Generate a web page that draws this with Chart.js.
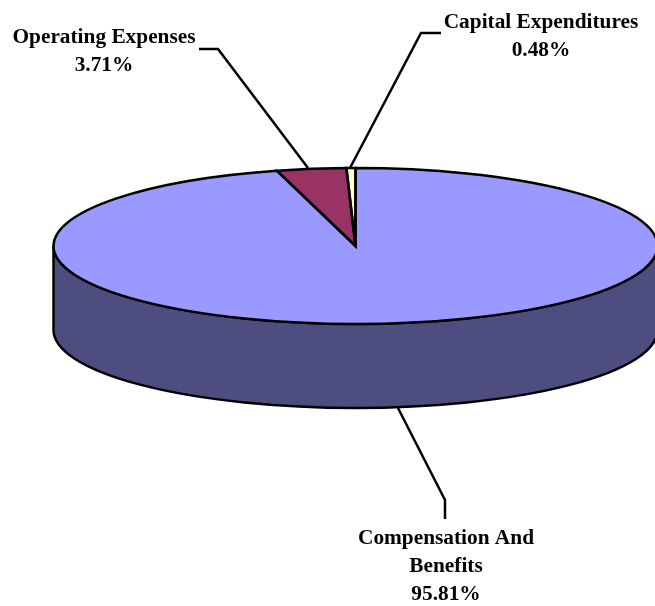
<!DOCTYPE html>
<html>
<head>
<meta charset="utf-8">
<title>Expense breakdown</title>
<script src="https://cdn.jsdelivr.net/npm/chart.js@4"></script>
<style>
    html, body { margin: 0; padding: 0; background: #fff; overflow: hidden; }
    canvas { display: block; }
</style>
</head>
<body>
<canvas id="chart" width="655" height="606"></canvas>
<script>
    // data, clockwise from 12 o'clock
    const categories = ['Compensation And Benefits', 'Operating Expenses', 'Capital Expenditures'];
    const percentages = [95.81, 3.71, 0.48];
    const sliceColors = ['#9999FF', '#993366', '#FFFFCC'];

    /* ── Disc shape: circle squashed into an ellipse, plus a side wall ───── */
    const RADIUS = 302;
    const SQUASH = 78 / RADIUS;
    const DEPTH = 84;
    const WALL_COLOR = '#4D4D80';
    const LINE_WIDTH = 2.5;

    /* ── Label placement (same order as categories) ──────────────────────── */
    const labelLines = [['Compensation And', 'Benefits'], ['Operating Expenses'], ['Capital Expenditures']];
    const labelCenterX = [446, 104, 541];
    const labelFirstBaseline = [544, 43, 28];
    const LINE_HEIGHT = 28;
    const leaders = [
        [[398, 408], [445, 500], [445, 519]],
        [[308, 168], [218, 49], [199, 49]],
        [[350, 168], [421, 33], [441, 33]],
    ];

    const disc3d = {
        id: 'disc3d',
        beforeDatasetsDraw(chart) {
            const ctx = chart.ctx;
            const arc = chart.getDatasetMeta(0).data[0];
            const ry = arc.outerRadius * SQUASH;

            // side wall under the front half of the disc
            ctx.save();
            ctx.beginPath();
            ctx.moveTo(arc.x - arc.outerRadius, arc.y);
            ctx.lineTo(arc.x - arc.outerRadius, arc.y + DEPTH);
            ctx.ellipse(arc.x, arc.y + DEPTH, arc.outerRadius, ry, 0, Math.PI, 0, true);
            ctx.lineTo(arc.x + arc.outerRadius, arc.y);
            ctx.ellipse(arc.x, arc.y, arc.outerRadius, ry, 0, 0, Math.PI, false);
            ctx.closePath();
            ctx.fillStyle = WALL_COLOR;
            ctx.fill();
            ctx.lineWidth = LINE_WIDTH;
            ctx.strokeStyle = '#000';
            ctx.stroke();
            ctx.restore();

            // the slices themselves get squashed by the library's own draw
            ctx.save();
            ctx.translate(arc.x, arc.y);
            ctx.scale(1, SQUASH);
            ctx.translate(-arc.x, -arc.y);
        },
        afterDatasetsDraw(chart) {
            const ctx = chart.ctx;
            ctx.restore();

            // outlines are done here so the pen is not squashed with the arcs
            ctx.save();
            ctx.lineWidth = LINE_WIDTH;
            ctx.lineJoin = 'miter';
            ctx.strokeStyle = '#000';
            chart.getDatasetMeta(0).data.forEach(arc => {
                ctx.beginPath();
                ctx.moveTo(arc.x, arc.y);
                ctx.ellipse(arc.x, arc.y, arc.outerRadius, arc.outerRadius * SQUASH, 0, arc.startAngle, arc.endAngle);
                ctx.closePath();
                ctx.stroke();
            });

            // leader lines
            leaders.forEach(points => {
                ctx.beginPath();
                points.forEach(([x, y], i) => (i ? ctx.lineTo(x, y) : ctx.moveTo(x, y)));
                ctx.stroke();
            });

            // labels
            ctx.fillStyle = '#000';
            ctx.font = 'bold 21.33px "Liberation Serif", "Times New Roman", serif';
            ctx.textAlign = 'center';
            ctx.textBaseline = 'alphabetic';
            categories.forEach((name, i) => {
                const lines = [...labelLines[i], percentages[i].toFixed(2) + '%'];
                lines.forEach((text, n) => {
                    ctx.fillText(text, labelCenterX[i], labelFirstBaseline[i] + n * LINE_HEIGHT);
                });
            });
            ctx.restore();
        }
    };

    new Chart(document.getElementById('chart').getContext('2d'), {
        type: 'pie',
        data: {
            labels: categories,
            datasets: [{
                data: percentages,
                backgroundColor: sliceColors,
                borderWidth: 0,
                hoverOffset: 0,
                clip: false
            }]
        },
        options: {
            responsive: false,
            animation: false,
            radius: RADIUS,
            rotation: 0,
            layout: { padding: { left: 56, right: 0, top: 0, bottom: 114 } },
            plugins: {
                legend: { display: false },
                tooltip: { enabled: false }
            }
        },
        plugins: [disc3d]
    });
</script>
</body>
</html>
